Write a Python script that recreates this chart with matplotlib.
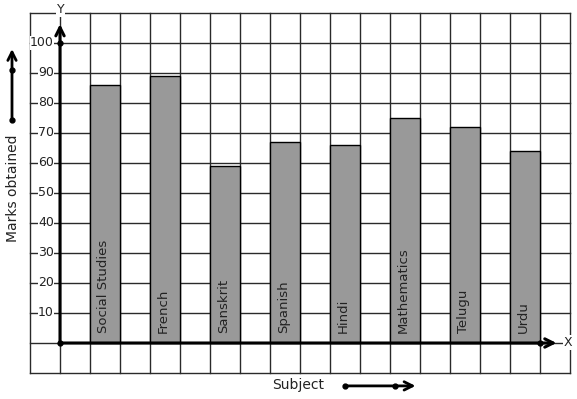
import matplotlib
matplotlib.use("Agg")
import numpy as np
from matplotlib import pyplot as plt

# values
subjects = ["Social Studies", "French", "Sanskrit", "Spanish",
            "Hindi", "Mathematics", "Telugu", "Urdu"]
marks = [86, 89, 59, 67, 66, 75, 72, 64]
y_ticks = [10, 20, 30, 40, 50, 60, 70, 80, 90, 100]

txt = "#222222"
fs = 9.0

fig = plt.figure(figsize=(5.77, 3.99), dpi=100)
ax = fig.add_axes([0, 0, 1, 1])
ax.set_xlim(-2, 17.233)
ax.set_ylim(-18.667, 114.333)
ax.axis("off")

# graph paper grid
for gx in range(-1, 18):
    ax.plot([gx, gx], [-10, 110], color="#2a2a2a", lw=1.0, zorder=1)
for gy in range(-10, 111, 10):
    ax.plot([-1, 17], [gy, gy], color="#2a2a2a", lw=1.0, zorder=1)

# bars, each one cell wide with a gap cell between
pos = 1.5 + 2 * np.arange(len(subjects))
ax.bar(pos, marks, width=1.0, color="#999999", edgecolor="black",
       linewidth=1.0, zorder=2)
for p, name in zip(pos, subjects):
    ax.text(p - 0.05, 3.3, name, rotation=90, ha="center", va="bottom",
            fontsize=9.5, color=txt, zorder=3)

# y tick labels sit on the grid lines
for t in y_ticks:
    ax.text(-0.2, t, str(t), ha="right", va="center", fontsize=fs, color=txt,
            zorder=3, bbox=dict(facecolor="white", edgecolor="none", pad=0.3))

# axes with arrows
ax.annotate("", xy=(16.55, 0), xytext=(0, 0),
            arrowprops=dict(arrowstyle="->", lw=2.2, color="black",
                            shrinkA=0, shrinkB=0, mutation_scale=15), zorder=4)
ax.annotate("", xy=(0, 106.3), xytext=(0, 0),
            arrowprops=dict(arrowstyle="->", lw=2.2, color="black",
                            shrinkA=0, shrinkB=0, mutation_scale=15), zorder=4)
ax.plot([0, 0, 16], [0, 100, 0], "o", color="black", ms=3.5, zorder=5)
ax.text(16.92, 0.2, "X", ha="center", va="center", fontsize=fs, color=txt,
        zorder=5, bbox=dict(facecolor="white", edgecolor="none", pad=0.5))
ax.text(0.03, 111, "Y", ha="center", va="center", fontsize=fs, color=txt,
        zorder=5, bbox=dict(facecolor="white", edgecolor="none", pad=0.5))

# axis titles with their little arrows
ax.text(-1.57, 51.5, "Marks obtained", rotation=90, ha="center", va="center",
        fontsize=10, color=txt)
ax.annotate("", xy=(-1.6, 98), xytext=(-1.6, 74.3),
            arrowprops=dict(arrowstyle="->", lw=2.0, color="black",
                            shrinkA=0, shrinkB=0, mutation_scale=15))
ax.plot([-1.6, -1.6], [74.3, 91], "o", color="black", ms=3.5)

ax.text(7.95, -14.0, "Subject", ha="center", va="center", fontsize=10, color=txt)
ax.annotate("", xy=(11.85, -14.3), xytext=(9.5, -14.3),
            arrowprops=dict(arrowstyle="->", lw=2.0, color="black",
                            shrinkA=0, shrinkB=0, mutation_scale=15))
ax.plot([9.5, 11.17], [-14.3, -14.3], "o", color="black", ms=3.5)

fig.savefig("out.png", dpi=100, facecolor="white")
